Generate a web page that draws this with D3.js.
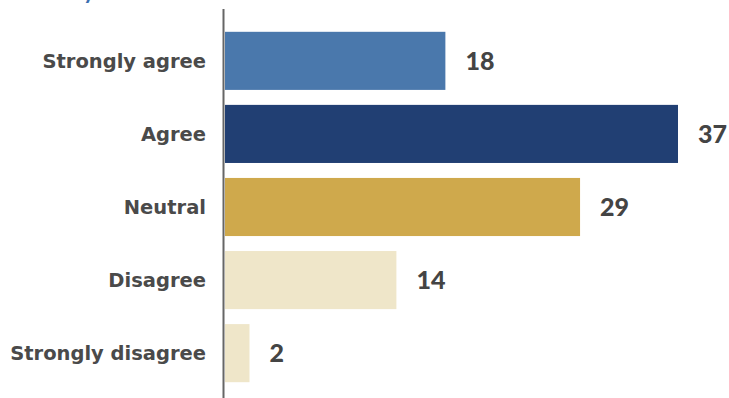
<!DOCTYPE html>
<html>
<head>
<meta charset="utf-8">
<script src="https://cdn.jsdelivr.net/npm/d3@7/dist/d3.min.js"></script>
<style>
  html, body { margin: 0; padding: 0; background: #fff; }
  svg { display: block; }
</style>
</head>
<body>
<svg id="chart" width="729" height="398"></svg>
<script>
// Survey answers, one bar per response option
const categories = ["Strongly agree", "Agree", "Neutral", "Disagree", "Strongly disagree"];
const counts = [18, 37, 29, 14, 2];
const barColors = ["#4a78ac", "#213f73", "#cfa94c", "#efe6c9", "#efe6c9"];
const titleText = "Survey";

const svg = d3.select("#chart");
const W = 729, H = 398;
const x0 = 225;

const x = d3.scaleLinear().domain([0, 37]).range([x0, 678]);
const y = d3.scaleBand()
  .domain(categories)
  .range([24.5, 389.5])
  .paddingInner(0.205)
  .paddingOuter(0.1);

// Title, mostly above the visible area
svg.append("text")
  .attr("x", 28)
  .attr("y", -1)
  .style("font-family", "Lato, sans-serif")
  .style("font-size", "22px")
  .style("font-weight", 700)
  .attr("fill", "#3a6fb0")
  .text(titleText);

const rows = categories.map((c, i) => ({ cat: c, value: counts[i], color: barColors[i] }));

svg.append("g").selectAll("rect")
  .data(rows)
  .join("rect")
  .attr("x", x0)
  .attr("y", d => y(d.cat))
  .attr("width", d => x(d.value) - x0)
  .attr("height", y.bandwidth())
  .attr("fill", d => d.color);

// Value labels
svg.append("g").selectAll("text")
  .data(rows)
  .join("text")
  .attr("x", d => x(d.value) + 20)
  .attr("y", d => y(d.cat) + y.bandwidth() / 2)
  .attr("dy", "0.36em")
  .style("font-family", "Lato, sans-serif")
  .style("font-size", "25px")
  .style("font-weight", 900)
  .attr("fill", "#444")
  .text(d => d.value);

// Category axis
const axis = d3.axisLeft(y).tickSize(0).tickPadding(18);
const gAxis = svg.append("g")
  .attr("transform", `translate(${x0 - 1},0)`)
  .call(axis);
gAxis.select(".domain").remove();
gAxis.selectAll(".tick text")
  .style("font-family", "'DejaVu Sans', sans-serif")
  .style("font-size", "19.5px")
  .style("font-weight", 700)
  .attr("fill", "#4a4a4a")
  .attr("dy", "0.36em");

svg.append("line")
  .attr("x1", x0 - 1.5).attr("x2", x0 - 1.5)
  .attr("y1", 9).attr("y2", H)
  .attr("stroke", "#666")
  .attr("stroke-width", 2);
</script>
</body>
</html>
